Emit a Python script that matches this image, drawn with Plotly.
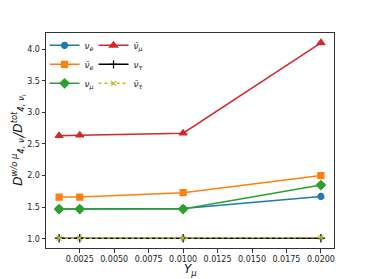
import plotly.graph_objects as go

Y_mu = [0.001, 0.0025, 0.01, 0.02]
nu_e = [1.47, 1.47, 1.48, 1.67]
nubar_e = [1.66, 1.66, 1.73, 2.00]
nu_mu = [1.47, 1.47, 1.47, 1.85]
nubar_mu = [2.63, 2.64, 2.67, 4.10]
nu_tau = [1.01, 1.01, 1.01, 1.01]
nubar_tau = [1.01, 1.01, 1.01, 1.02]

x_ticks = [0.0025, 0.0050, 0.0075, 0.0100, 0.0125, 0.0150, 0.0175, 0.0200]
y_ticks = [1.0, 1.5, 2.0, 2.5, 3.0, 3.5, 4.0]

series = [
    ("<i>ν<sub>e</sub></i>", nu_e, "#1f77b4", "circle", "solid", "legend", 6),
    ("<i>ν̄<sub>e</sub></i>", nubar_e, "#ff7f0e", "square", "solid", "legend", 6),
    ("<i>ν<sub>μ</sub></i>", nu_mu, "#2ca02c", "diamond", "solid", "legend", 7),
    ("<i>ν̄<sub>μ</sub></i>", nubar_mu, "#d62728", "triangle-up", "solid", "legend2", 7),
    ("<i>ν<sub>τ</sub></i>", nu_tau, "#000000", "cross-thin", "solid", "legend2", 6),
    ("<i>ν̄<sub>τ</sub></i>", nubar_tau, "#bcbd22", "x-thin", "dot", "legend2", 5),
]

fig = go.Figure()
for name, ys, col, sym, dash, leg, ms in series:
    fig.add_trace(go.Scatter(
        x=Y_mu, y=ys, name=name, mode="lines+markers",
        line=dict(color=col, width=1.5, dash=dash),
        marker=dict(symbol=sym, size=ms, color=col,
                    line=dict(color=col, width=1.2)),
        legend=leg,
    ))

axis_common = dict(
    showline=True, linecolor="#333333", linewidth=1, mirror=True,
    ticks="outside", ticklen=3.5, tickwidth=1, tickcolor="#333333",
    showgrid=False, zeroline=False,
    tickfont=dict(family="DejaVu Sans", size=8, color="#222222"),
)

fig.update_layout(
    width=371, height=279,
    margin=dict(l=46, r=37, t=33, b=31),
    plot_bgcolor="white", paper_bgcolor="white",
    xaxis=dict(range=[0.00005, 0.02095], tickvals=x_ticks,
               ticktext=[f"{v:.4f}" for v in x_ticks], **axis_common),
    yaxis=dict(range=[0.855, 4.255], tickvals=y_ticks,
               ticktext=[f"{v:.1f}" for v in y_ticks], **axis_common),
    annotations=[
        dict(text="<i>Y<sub>μ</sub></i>", xref="paper", yref="paper",
             x=0.5, y=-0.1, xanchor="center", yanchor="middle", showarrow=False,
             font=dict(family="DejaVu Sans", size=12, color="#111111")),
        dict(text="<i>D<sup>w/o μ</sup><sub>4, ν<sub>i</sub></sub>/D<sup>tot</sup><sub>4, ν<sub>i</sub></sub></i>",
             xref="paper", yref="paper", x=-0.10, y=0.5, textangle=-90,
             xanchor="center", yanchor="middle", showarrow=False,
             font=dict(family="DejaVu Sans", size=12, color="#111111")),
    ],
    legend=dict(x=-0.005, y=1.01, xanchor="left", yanchor="top",
                bgcolor="rgba(255,255,255,0)", itemwidth=30,
                font=dict(family="DejaVu Sans", size=9, color="#222222"),
                tracegroupgap=0),
    legend2=dict(x=0.165, y=1.01, xanchor="left", yanchor="top",
                 bgcolor="rgba(255,255,255,0)", itemwidth=30,
                 font=dict(family="DejaVu Sans", size=9, color="#222222"),
                 tracegroupgap=0),
)

fig.write_html("out.html", config={"displayModeBar": False},
               post_script="document.body.style.margin='0';document.body.style.padding='0';")
